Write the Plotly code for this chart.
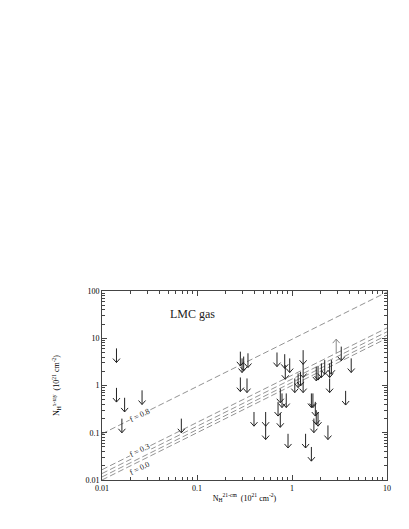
import numpy as np
import plotly.graph_objects as go

# upper limits (arrows pointing down): N_H 21-cm vs N_H x-ray, 10^21 cm^-2
nh_21cm = [0.0142, 0.0142, 0.0173, 0.0264, 0.0162, 0.0684,
           0.286, 0.298, 0.31, 0.344, 0.286, 0.336,
           0.695, 0.838, 0.946, 1.31, 1.31, 0.85, 1.31, 1.07, 1.16, 1.23,
           1.8, 1.88, 2.04, 2.21, 2.49, 2.6, 2.49, 3.3, 4.2, 3.67,
           0.753, 0.785, 0.87, 0.713, 1.6, 1.66, 1.76, 1.8,
           0.398, 0.528, 0.528, 0.753, 0.908, 1.39, 1.7, 1.88, 2.39, 1.6]
nh_xray = [6.1, 0.89, 0.55, 0.79, 0.199, 0.199,
           5.2, 3.75, 4.1, 4.8, 1.48, 1.41,
           5.0, 4.6, 3.75, 5.6, 2.94, 2.7, 1.41, 1.41, 1.8, 1.95,
           2.5, 2.6, 2.94, 3.45, 2.94, 3.45, 1.41, 6.65, 3.75, 0.77,
           0.86, 0.68, 0.68, 0.45, 0.68, 0.68, 0.45, 0.3,
           0.275, 0.275, 0.143, 0.26, 0.095, 0.095, 0.2, 0.275, 0.143, 0.05]

# lower limit (arrow pointing up)
nh_21cm_low = [2.92]
nh_xray_low = [4.8]

# model lines N_H(x-ray) = k * N_H(21-cm)
line_f = ["0.8", "0.3", "0.2", "0.1", "0.0"]
line_k = [9.5, 1.65, 1.37, 1.16, 1.0]
x_range = [0.01, 10.0]

ARROW = 0.30      # arrow length, decades
HEAD_W = 0.037    # half width of head, decades of x
HEAD_H = 0.085    # head height, decades of y


def arrow_paths(xs, ys, direction=-1):
    px, py = [], []
    for x, y in zip(xs, ys):
        tip = y * 10 ** (direction * ARROW)
        back = tip * 10 ** (-direction * HEAD_H)
        px += [x, x, None, x * 10 ** -HEAD_W, x, x * 10 ** HEAD_W, None]
        py += [y, tip, None, back, tip, back, None]
    return px, py


fig = go.Figure()

for k in line_k:
    fig.add_trace(go.Scatter(
        x=x_range, y=[k * v for v in x_range], mode="lines",
        line=dict(color="#777", width=0.8, dash="6px,3px"),
        hoverinfo="skip", showlegend=False,
    ))

ax, ay = arrow_paths(nh_21cm, nh_xray, -1)
fig.add_trace(go.Scatter(x=ax, y=ay, mode="lines",
                         line=dict(color="#222", width=1),
                         hoverinfo="skip", showlegend=False))
ux, uy = arrow_paths(nh_21cm_low, nh_xray_low, 1)
fig.add_trace(go.Scatter(x=ux, y=uy, mode="lines",
                         line=dict(color="#888", width=1),
                         hoverinfo="skip", showlegend=False))

# labels along the lines
angle = -np.degrees(np.arctan(47 / 95))
x_lab = 0.0247
for f, k, shift in [("0.8", line_k[0], 0), ("0.3", line_k[1], 1), ("0.0", line_k[4], -7)]:
    fig.add_annotation(
        x=np.log10(x_lab), y=np.log10(k * x_lab), xref="x", yref="y",
        text=f"f = {f}", showarrow=False, textangle=angle, yshift=shift,
        font=dict(family="Liberation Serif", size=8, color="#222"),
        bgcolor="white" if shift >= 0 else None, borderpad=0,
    )

fig.add_annotation(x=0.232, y=0.926, xref="paper", yref="paper",
                   text="LMC gas", showarrow=False,
                   font=dict(family="Liberation Serif", size=12, color="#222"))

minor_x = [m * 10 ** d for d in range(-2, 1) for m in range(2, 10)]
minor_y = [m * 10 ** d for d in range(-2, 2) for m in range(2, 10)]

axis_common = dict(
    type="log", showgrid=False, zeroline=False,
    showline=True, linecolor="#444", linewidth=1, mirror="allticks",
    ticks="inside", ticklen=5, tickcolor="#444", tickwidth=1,
    tickfont=dict(family="Liberation Serif", size=8, color="#000"),
)

fig.update_xaxes(
    **axis_common, range=[-2, 1],
    tickvals=[0.01, 0.1, 1, 10], ticktext=["0.01", "0.1", "1", "10"],
    minor=dict(ticks="inside", ticklen=3, tickcolor="#444", tickvals=minor_x),
    title=dict(text="N<sub>H</sub><sup>21-cm</sup>  (10<sup>21</sup> cm<sup>-2</sup>)",
               font=dict(family="Liberation Serif", size=8, color="#000"), standoff=3),
)
fig.update_yaxes(
    **axis_common, range=[-2, 2],
    tickvals=[0.01, 0.1, 1, 10, 100], ticktext=["0.01", "0.1", "1", "10", "100"],
    minor=dict(ticks="inside", ticklen=3, tickcolor="#444", tickvals=minor_y),
    title=dict(text="N<sub>H</sub><sup>x-ray</sup>  (10<sup>21</sup> cm<sup>-2</sup>)",
               font=dict(family="Liberation Serif", size=8, color="#000"), standoff=24),
)

fig.update_layout(
    width=409, height=529,
    margin=dict(l=94, r=30, t=283, b=57),
    plot_bgcolor="white", paper_bgcolor="white",
    showlegend=False,
)

fig.write_html("out.html")
